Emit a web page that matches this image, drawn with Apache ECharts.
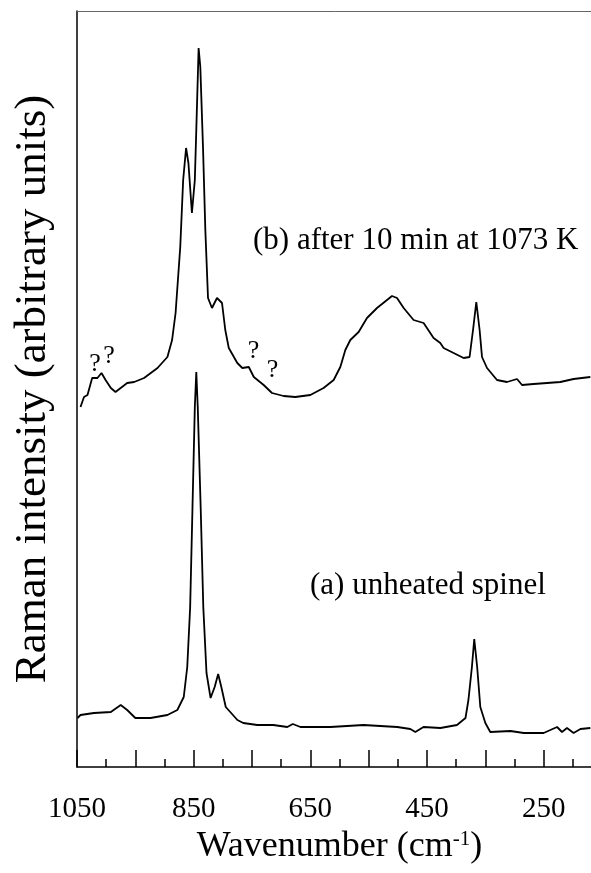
<!DOCTYPE html>
<html>
<head>
<meta charset="utf-8">
<script src="https://cdn.jsdelivr.net/npm/echarts@6/dist/echarts.min.js"></script>
<style>
html,body{margin:0;padding:0;background:#fff;}
#chart{width:591px;height:873px;}
</style>
</head>
<body>
<div id="chart"></div>
<script>
// (b) after 10 min at 1073 K — wavenumber (cm-1) and intensity (arbitrary units)
var waveB = [1044,1038,1032,1024,1015,1008,1001,992,984,964,952,935,912,895,887,881,873,868,863,859,853,848,845.5,841.5,838.6,834,830,825.4,818.6,810,801.4,795.8,789.8,775.2,766.6,755.5,746.9,730,715.7,695.8,675.8,650,627.3,610,598.6,590,581.5,567.2,552.9,535.7,518.6,510,501.4,490,473,455.8,438.7,427.2,421.5,404.4,387.2,377,371.1,365.5,359.8,355.7,347.1,330,312.9,295.7,287.1,267.2,244.3,221.5,198.7,170];
var intB  = [360,370,372,389,389,394,387,379,375,384,385,389,399,410,427,454,520,587,619,604,554,587,637,719,700,620,537,469,459,469,464,437,419,404,399,400,390,382,374,371,370,372,379,387,400,417,427,435,449,459,467,471,469,459,447,444,429,424,419,414,409,410,437,465,437,410,399,387,385,388,382,383,384,385,388,390];
// (a) unheated spinel
var waveA = [1049,1044,1021,992,975,964,950,924,895,878,867,861,856,852,848,845.5,843,838,833.5,828,821,814,808,802.6,795,775,765,741,713.5,689.5,680,667,650,616,587,559,530,501,478.6,470,456,427,398.6,384,379,373,369,364,358.6,350,341.5,307,284,250,227,218.6,210,198.7,187,170];
var intA  = [49,52,54,55,62,57,49,49,52,57,70,100,160,260,360,395,360,260,160,94,69,80,93,80,60,47,44,42,42,40,43,40,40,40,41,42,41,40,38,35,40,39,42,49,67,100,128,100,60,44,35,36,34,34,40,35,39,34,38,39];
// axis ticks
var xMin = 150, xMax = 1050, xTick = 100;
var xLabels = [1050, 850, 650, 450, 250];

function zip(w, v){ return w.map(function(x,i){ return [x, v[i]]; }); }

var serif = 'Liberation Serif';
var chart = echarts.init(document.getElementById('chart'), null, {renderer:'canvas'});
var option = {
  backgroundColor: '#fff',
  animation: false,
  grid: { left: 77, width: 525, top: 11, bottom: 106, containLabel: false, outerBoundsMode: 'none' },
  xAxis: [{
    type: 'value', inverse: true, min: xMin, max: xMax, interval: xTick,
    axisLine: { show: true, lineStyle: { color: '#000', width: 1.5 } },
    axisTick: { show: true, inside: true, length: 17, lineStyle: { color: '#000', width: 1.5 } },
    minorTick: { show: true, splitNumber: 2, length: 8, lineStyle: { color: '#000', width: 1.5 } },
    splitLine: { show: false },
    axisLabel: {
      margin: 28, color: '#000', fontFamily: serif, fontSize: 29,
      formatter: function(v){ return xLabels.indexOf(v) >= 0 ? String(v) : ''; }
    },
    name: 'Wavenumber (cm{sup|-1})', nameLocation: 'middle', nameGap: 62,
    nameTextStyle: { color: '#000', fontFamily: serif, fontSize: 36,
      rich: { sup: { fontFamily: serif, fontSize: 21, verticalAlign: 'top', padding: [0,0,14,0], color:'#000' } } }
  }, {
    type: 'value', inverse: true, min: xMin, max: xMax, position: 'top',
    axisLine: { show: true, lineStyle: { color: '#666', width: 1 } },
    axisTick: { show: false }, axisLabel: { show: false }, splitLine: { show: false }
  }],
  yAxis: {
    type: 'value', min: 0, max: 756,
    axisLine: { show: true, lineStyle: { color: '#000', width: 1.5 } },
    axisTick: { show: false }, axisLabel: { show: false }, splitLine: { show: false },
    name: 'Raman intensity (arbitrary units)', nameLocation: 'middle', nameGap: 21,
    nameTextStyle: { color: '#000', fontFamily: serif, fontSize: 45 }
  },
  series: [{
    name: '(b) after 10 min at 1073 K', type: 'line', data: zip(waveB, intB),
    symbol: 'none', smooth: false, lineStyle: { color: '#000', width: 1.8 }
  }, {
    name: '(a) unheated spinel', type: 'line', data: zip(waveA, intA),
    symbol: 'none', smooth: false, lineStyle: { color: '#000', width: 1.8 }
  }],
  graphic: [
    { type: 'text', x: 253, y: 241, style: { text: '(b) after 10 min at 1073 K', font: '31px "Liberation Serif"', fill: '#000', textVerticalAlign: 'middle' } },
    { type: 'text', x: 310, y: 586, style: { text: '(a) unheated spinel', font: '31px "Liberation Serif"', fill: '#000', textVerticalAlign: 'middle' } },
    { type: 'text', x: 95, y: 364, style: { text: '?', font: '26px "Liberation Serif"', fill: '#000', textAlign: 'center', textVerticalAlign: 'middle' } },
    { type: 'text', x: 109, y: 356, style: { text: '?', font: '26px "Liberation Serif"', fill: '#000', textAlign: 'center', textVerticalAlign: 'middle' } },
    { type: 'text', x: 253.5, y: 351, style: { text: '?', font: '26px "Liberation Serif"', fill: '#000', textAlign: 'center', textVerticalAlign: 'middle' } },
    { type: 'text', x: 272.5, y: 370, style: { text: '?', font: '26px "Liberation Serif"', fill: '#000', textAlign: 'center', textVerticalAlign: 'middle' } }
  ]
};
chart.setOption(option);
</script>
</body>
</html>
